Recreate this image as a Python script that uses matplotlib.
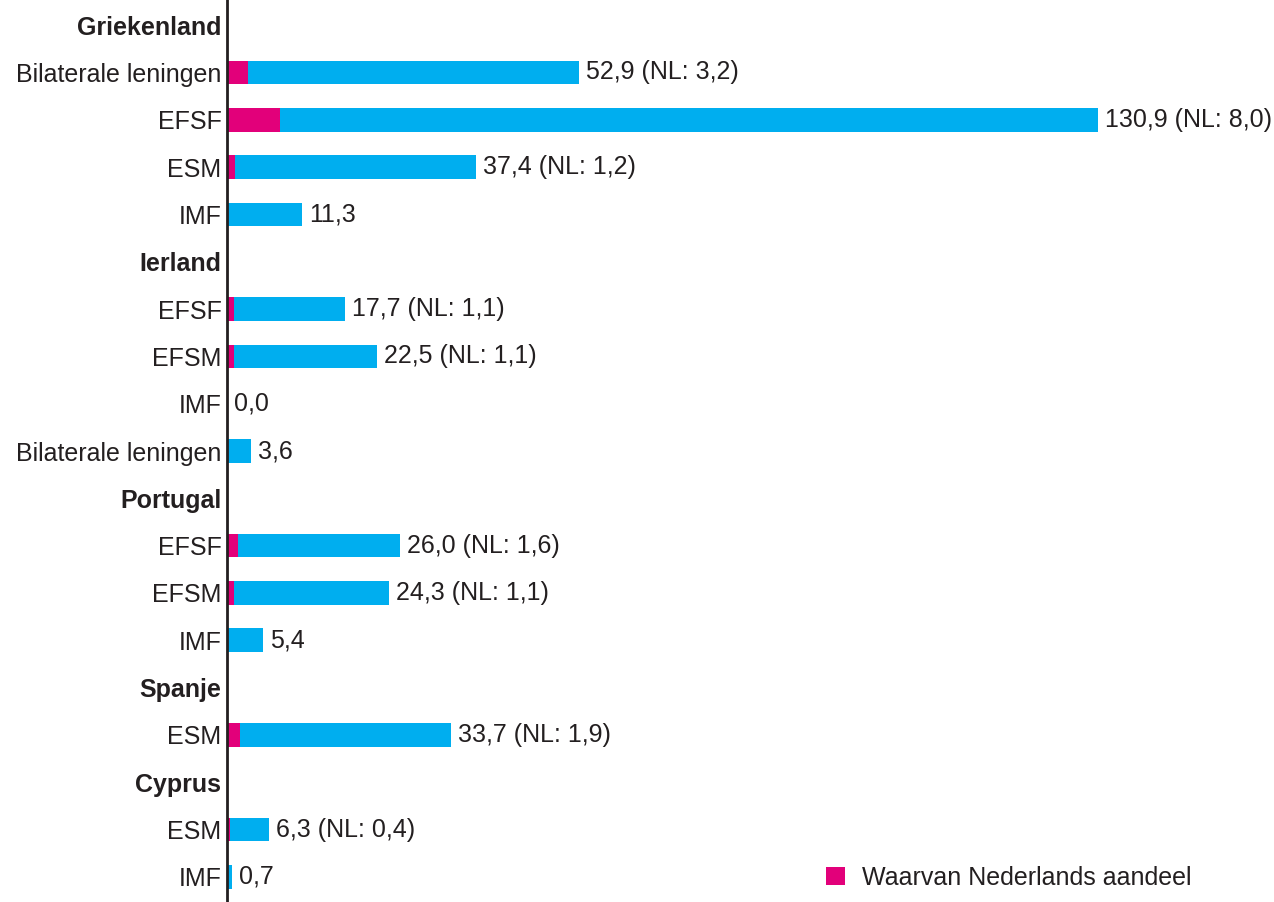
import matplotlib.pyplot as plt

plt.rcParams['font.family'] = ['Liberation Sans', 'DejaVu Sans']

# rows from top to bottom; headers have value None
labels = ["Griekenland", "Bilaterale leningen", "EFSF", "ESM", "IMF",
          "Ierland", "EFSF", "EFSM", "IMF", "Bilaterale leningen",
          "Portugal", "EFSF", "EFSM", "IMF",
          "Spanje", "ESM",
          "Cyprus", "ESM", "IMF"]
totaal = [None, 52.9, 130.9, 37.4, 11.3,
          None, 17.7, 22.5, 0.0, 3.6,
          None, 26.0, 24.3, 5.4,
          None, 33.7,
          None, 6.3, 0.7]
nl = [None, 3.2, 8.0, 1.2, None,
      None, 1.1, 1.1, None, None,
      None, 1.6, 1.1, None,
      None, 1.9,
      None, 0.4, None]

blauw = "#00AEEF"
roze = "#E2007A"
fs = 18

def fmt(v):
    return ("%.1f" % v).replace(".", ",")

fig = plt.figure(figsize=(12.74, 9.02), dpi=100)
ax = fig.add_axes([227/1274, 0, 1 - 227/1274, 1])

for i, t in enumerate(totaal):
    if t is None:
        continue
    n = nl[i] if nl[i] is not None else 0
    if n > 0:
        ax.barh(i, n, height=0.5, color=roze, linewidth=0)
    ax.barh(i, t - n, left=n, height=0.5, color=blauw, linewidth=0)
    txt = fmt(t)
    if nl[i] is not None:
        txt += " (NL: " + fmt(nl[i]) + ")"
    ax.annotate(txt, (t, i), xytext=(5, 0), textcoords="offset points",
                va="center", ha="left", fontsize=fs, color="#231f20")

ax.set_xlim(0, 157.4)
ax.set_ylim(18.53, -0.53)
ax.set_yticks(range(len(labels)))
ax.set_yticklabels(labels, fontsize=fs, color="#231f20")
for i, lab in enumerate(ax.get_yticklabels()):
    if totaal[i] is None:
        lab.set_fontweight("bold")
ax.tick_params(axis="y", length=0, pad=4)
ax.set_xticks([])
for s in ["top", "right", "bottom"]:
    ax.spines[s].set_visible(False)
ax.spines["left"].set_linewidth(2)
ax.spines["left"].set_color("#231f20")

ax.barh([0], [0], color=roze, label="Waarvan Nederlands aandeel")
leg = fig.legend(loc="center left", bbox_to_anchor=(826/1274, 1 - 878/902),
                 frameon=False, fontsize=fs, borderpad=0, borderaxespad=0,
                 handlelength=0.75, handleheight=0.75, handletextpad=0.7)
for t in leg.get_texts():
    t.set_color("#231f20")

plt.savefig("out.png")
